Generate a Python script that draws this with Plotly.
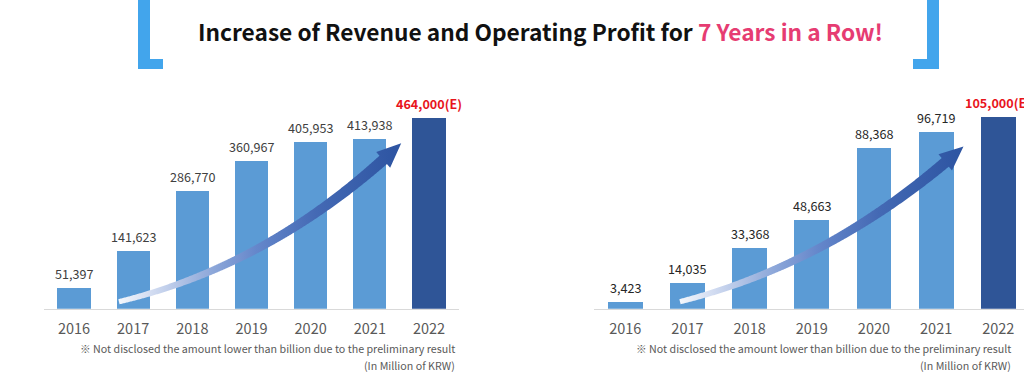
import numpy as np
import plotly.graph_objects as go

# ---------------- data ----------------
years = [2016, 2017, 2018, 2019, 2020, 2021, 2022]
revenue = [51397, 141623, 286770, 360967, 405953, 413938, 464000]
op_profit = [3423, 14035, 33368, 48663, 88368, 96719, 105000]
revenue_labels = ["51,397", "141,623", "286,770", "360,967", "405,953", "413,938", "464,000(E)"]
profit_labels = ["3,423", "14,035", "33,368", "48,663", "88,368", "96,719", "105,000(E)"]
estimated = [False, False, False, False, False, False, True]

title_main = "Increase of Revenue and Operating Profit for "
title_accent = "7 Years in a Row!"
note_line1 = "※ Not disclosed the amount lower than billion due to the preliminary result"
note_line2 = "(In Million of KRW)"

# ---------------- style / layout ----------------
W, H = 1024, 378
FONT = "Noto Sans CJK KR"
C_BAR = "#5B9BD5"
C_BAR_E = "#2F5597"
C_RED = "#E8141C"
C_BRACKET = "#42A5EC"
C_PINK = "#E63C72"

base_px, top_px = 308.7, 90.0
ydom = [(H - base_px) / H, (H - top_px) / H]

panels = {
    "left": dict(xdom_px=(44.4, 458.6), xrange=(2015.5, 2022.5), yrange=(0, 533000),
                 xref="x", yref="y", label_color="#404040",
                 arrow=((2016.76, 17000), (2019.26, 159000), (2021.53, 403000)),
                 note_right=457),
    "right": dict(xdom_px=(594.2, 1024.0), xrange=(2015.5, 2015.5 + (1024 - 594.2) / 62.17),
                  yrange=(0, 120000), xref="x2", yref="y2", label_color="#262626",
                  arrow=((2016.88, 3850), (2019.26, 35900), (2021.44, 89000)),
                  note_right=1013),
}


def d2p(p, x, y):
    (l, r), (x0, x1), (y0, y1) = p["xdom_px"], p["xrange"], p["yrange"]
    px = l + (x - x0) / (x1 - x0) * (r - l)
    py = base_px - (y - y0) / (y1 - y0) * (base_px - top_px)
    return px, py


def p2d(p, px, py):
    (l, r), (x0, x1), (y0, y1) = p["xdom_px"], p["xrange"], p["yrange"]
    x = x0 + (px - l) / (r - l) * (x1 - x0)
    y = y0 + (base_px - py) / (base_px - top_px) * (y1 - y0)
    return x, y


def arrow_polygon(p, w0=2.6, w1=5.6, head_len=24.0, head_w=10.5):
    P0, M, P2 = [np.array(d2p(p, *pt)) for pt in p["arrow"]]
    P1 = 2 * M - 0.5 * (P0 + P2)
    t = np.linspace(0, 1, 400)
    pts = ((1 - t) ** 2)[:, None] * P0 + (2 * (1 - t) * t)[:, None] * P1 + (t ** 2)[:, None] * P2
    seg = np.sqrt((np.diff(pts, axis=0) ** 2).sum(axis=1))
    s = np.concatenate([[0], np.cumsum(seg)])
    L = s[-1]
    keep = s <= L - head_len
    body = pts[keep]
    sb = s[keep]
    tang = np.gradient(body, axis=0)
    tang /= np.linalg.norm(tang, axis=1)[:, None]
    nrm = np.stack([-tang[:, 1], tang[:, 0]], axis=1)
    w = w0 + (w1 - w0) * sb / sb[-1]
    side_a = body + nrm * w[:, None]
    side_b = body - nrm * w[:, None]
    base = body[-1]
    n_end = nrm[-1]
    poly = list(side_a) + [base + n_end * head_w, P2, base - n_end * head_w] + list(side_b[::-1])
    poly.append(poly[0])
    xs, ys = zip(*[p2d(p, q[0], q[1]) for q in poly])
    return list(xs), list(ys), P0, P2


fig = go.Figure()

series = {"left": (revenue, revenue_labels), "right": (op_profit, profit_labels)}
annotations = []
shapes = []

for key, p in panels.items():
    vals, labs = series[key]
    xa, ya = p["xref"], p["yref"]
    fig.add_trace(go.Bar(
        x=years, y=vals, width=0.56,
        marker=dict(color=[C_BAR_E if e else C_BAR for e in estimated], line=dict(width=0)),
        xaxis=xa, yaxis=ya, showlegend=False, hoverinfo="skip",
    ))
    # gradient arrow
    ax_x, ax_y, P0, P2 = arrow_polygon(p)
    x_start = p2d(p, P0[0], P0[1])[0]
    x_stop = p2d(p, P2[0] - 8, P2[1])[0]
    fig.add_trace(go.Scatter(
        x=ax_x, y=ax_y, mode="none", fill="toself",
        fillgradient=dict(type="horizontal", start=x_start, stop=x_stop,
                          colorscale=[[0, "#F4F7FC"], [0.12, "#D2DCF1"], [0.3, "#98B0DD"],
                                      [0.5, "#6587CB"], [0.72, "#4469B4"], [1, "#2F56A3"]]),
        xaxis=xa, yaxis=ya, showlegend=False, hoverinfo="skip",
    ))
    for yr, v, lab, e in zip(years, vals, labs, estimated):
        annotations.append(dict(
            x=yr, y=v, xref=xa, yref=ya, text=f"<b>{lab}</b>" if e else lab,
            showarrow=False, yanchor="bottom", yshift=3,
            font=dict(family=FONT, size=12.6, color=C_RED if e else p["label_color"]),
        ))
    for txt, ypx in ((note_line1, 348.3), (note_line2, 365.7)):
        annotations.append(dict(
            x=p["note_right"] / W, y=1 - ypx / H, xref="paper", yref="paper",
            text=txt, showarrow=False, xanchor="right", yanchor="middle",
            font=dict(family=FONT, size=10.7, color="#595959"),
        ))

# title
annotations.append(dict(
    x=540.5 / W, y=1 - 31.5 / H, xref="paper", yref="paper", showarrow=False,
    xanchor="center", yanchor="middle",
    text=f"<b>{title_main}<span style='color:{C_PINK}'>{title_accent}</span></b>",
    font=dict(family=FONT, size=22.7, color="#111111"),
))

# brackets
def rect_px(x0, y0, x1, y1):
    return dict(type="rect", xref="paper", yref="paper",
                x0=x0 / W, x1=x1 / W, y0=1 - y1 / H, y1=1 - y0 / H,
                fillcolor=C_BRACKET, line=dict(width=0), layer="above")

shapes += [rect_px(138, -5, 150, 69), rect_px(138, 59, 163, 69),
           rect_px(927, -5, 939, 69), rect_px(913, 59, 939, 69)]

axis_common = dict(showgrid=False, zeroline=False, showline=True, linecolor="#D9D9D9",
                   linewidth=1.5, ticks="", tickvals=years, ticktext=[str(y) for y in years],
                   tickfont=dict(family=FONT, size=14.5, color="#595959"), fixedrange=True,
                   ticklabelstandoff=6)
yaxis_common = dict(visible=False, showgrid=False, zeroline=False, domain=ydom, fixedrange=True)

L, R = panels["left"], panels["right"]
fig.update_layout(
    width=W, height=H, autosize=False,
    margin=dict(l=0, r=0, t=0, b=0),
    paper_bgcolor="white", plot_bgcolor="white",
    bargap=0, barmode="overlay",
    xaxis=dict(domain=[L["xdom_px"][0] / W, L["xdom_px"][1] / W], range=list(L["xrange"]),
               anchor="y", **axis_common),
    yaxis=dict(range=list(L["yrange"]), anchor="x", **yaxis_common),
    xaxis2=dict(domain=[R["xdom_px"][0] / W, min(1.0, R["xdom_px"][1] / W)], range=list(R["xrange"]),
                anchor="y2", **axis_common),
    yaxis2=dict(range=list(R["yrange"]), anchor="x2", **yaxis_common),
    annotations=annotations, shapes=shapes,
    font=dict(family=FONT),
)

fig.write_html("out.html", config={"displayModeBar": False, "staticPlot": True},
               post_script="document.body.style.margin='0';document.body.style.overflow='hidden';")
